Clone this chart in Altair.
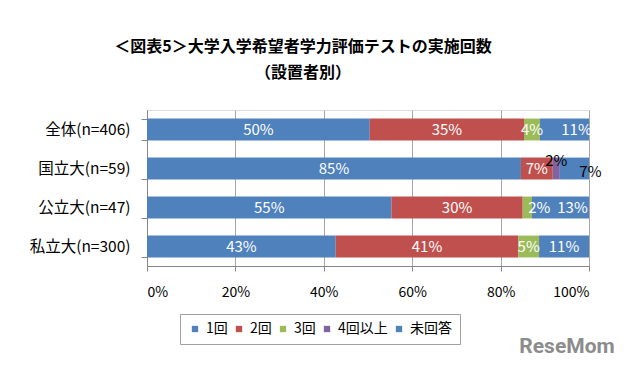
import altair as alt
import pandas as pd

categories = ["全体(n=406)", "国立大(n=59)", "公立大(n=47)", "私立大(n=300)"]
series = ["1回", "2回", "3回", "4回以上", "未回答"]
colors = ["#4F81BD", "#C0504D", "#9BBB59", "#8064A2", "#4F81BD"]
# percent values, per category, in series order
v_all = [50.4, 34.9, 3.6, 0.0, 11.1]
v_national = [84.6, 7.2, 0.0, 1.6, 6.6]
v_public = [55.3, 29.7, 2.1, 0.0, 12.9]
v_private = [42.7, 41.3, 4.7, 0.0, 11.3]
# label placement: in = white inside, shift = white nudged right,
# up = black above, right = black outside
lab_all = ["in", "in", "in", "in", "shift"]
lab_national = ["in", "in", "in", "up", "right"]
lab_public = ["in", "in", "shift", "in", "shift"]
lab_private = ["in", "in", "in", "in", "in"]
watermark = ["ReseMom"]

rows = []
for cat, vals, labs in zip(categories,
                           [v_all, v_national, v_public, v_private],
                           [lab_all, lab_national, lab_public, lab_private]):
    for i, (s, v, l) in enumerate(zip(series, vals, labs)):
        if v > 0:
            rows.append({"cat": cat, "series": s, "order": i, "value": v / 100.0, "lab": l})
df = pd.DataFrame(rows)

FONT = "Noto Sans CJK JP"

base = alt.Chart(df).transform_stack(
    stack="value", groupby=["cat"], as_=["x0", "x1"],
    sort=[alt.SortField("order", order="ascending")]
).transform_calculate(
    mid="(datum.x0 + datum.x1) / 2"
)

yenc = alt.Y("cat:N", sort=categories, title=None,
             scale=alt.Scale(paddingInner=0.44, paddingOuter=0.22),
             axis=alt.Axis(tickBand="extent", grid=False, domainColor="#868686",
                           tickColor="#868686", tickSize=6, labelFontSize=15.5,
                           labelColor="#000000", labelPadding=11, labelFont=FONT))

bars = base.mark_bar().encode(
    x=alt.X("x0:Q", title=None,
            scale=alt.Scale(domain=[0, 1], nice=False),
            axis=alt.Axis(values=[0, 0.2, 0.4, 0.6, 0.8, 1.0], format=".0%",
                          grid=True, gridColor="#A6A6A6", domainColor="#868686",
                          tickColor="#868686", tickSize=5, labelFontSize=14,
                          labelColor="#000000", labelPadding=14, labelFont=FONT)),
    x2="x1:Q",
    y=yenc,
    color=alt.Color("series:N", sort=series,
                    scale=alt.Scale(domain=series, range=colors),
                    legend=alt.Legend(title=None, orient="none", legendX=33, legendY=204,
                                      direction="horizontal", symbolType="square",
                                      symbolSize=40, labelFontSize=14, labelFont=FONT,
                                      labelColor="#000000", columnPadding=4,
                                      labelOffset=4, padding=8, strokeColor="#A0A0A0",
                                      symbolStrokeWidth=0)),
    order=alt.Order("order:Q"),
)

def labels(kind, color, dx=0, dy=0):
    return base.transform_filter(f"datum.lab == '{kind}'").mark_text(
        color=color, fontSize=15, font=FONT, dx=dx, dy=dy
    ).encode(x="mid:Q", y=alt.Y("cat:N", sort=categories),
             text=alt.Text("value:Q", format=".0%"))

txt_in = labels("in", "white")
txt_shift = labels("shift", "white", dx=12)
txt_up = labels("up", "black", dx=0, dy=-8)
txt_right = labels("right", "black", dx=16, dy=3)

logo = alt.Chart(pd.DataFrame({"t": watermark})).mark_text(
    font="Roboto", fontSize=21, fontWeight="bold", color="#8C8C8C",
    align="center", baseline="middle"
).encode(x=alt.value(420), y=alt.value(237), text="t:N")

chart = alt.layer(bars, txt_in, txt_shift, txt_up, txt_right, logo).properties(
    width=442, height=156,
    title=alt.TitleParams(["＜図表5＞大学入学希望者学力評価テストの実施回数", "（設置者別）"],
                          font=FONT, fontSize=16, fontWeight="bold", color="#000000",
                          anchor="middle", dx=-65, offset=22, lineHeight=26),
    autosize=alt.AutoSizeParams(type="none"),
    padding={"left": 139, "top": 102, "right": 33, "bottom": 97},
).configure_view(stroke=None).configure(background="white")

chart.save("out.html", embed_options={"renderer": "svg", "actions": False})
